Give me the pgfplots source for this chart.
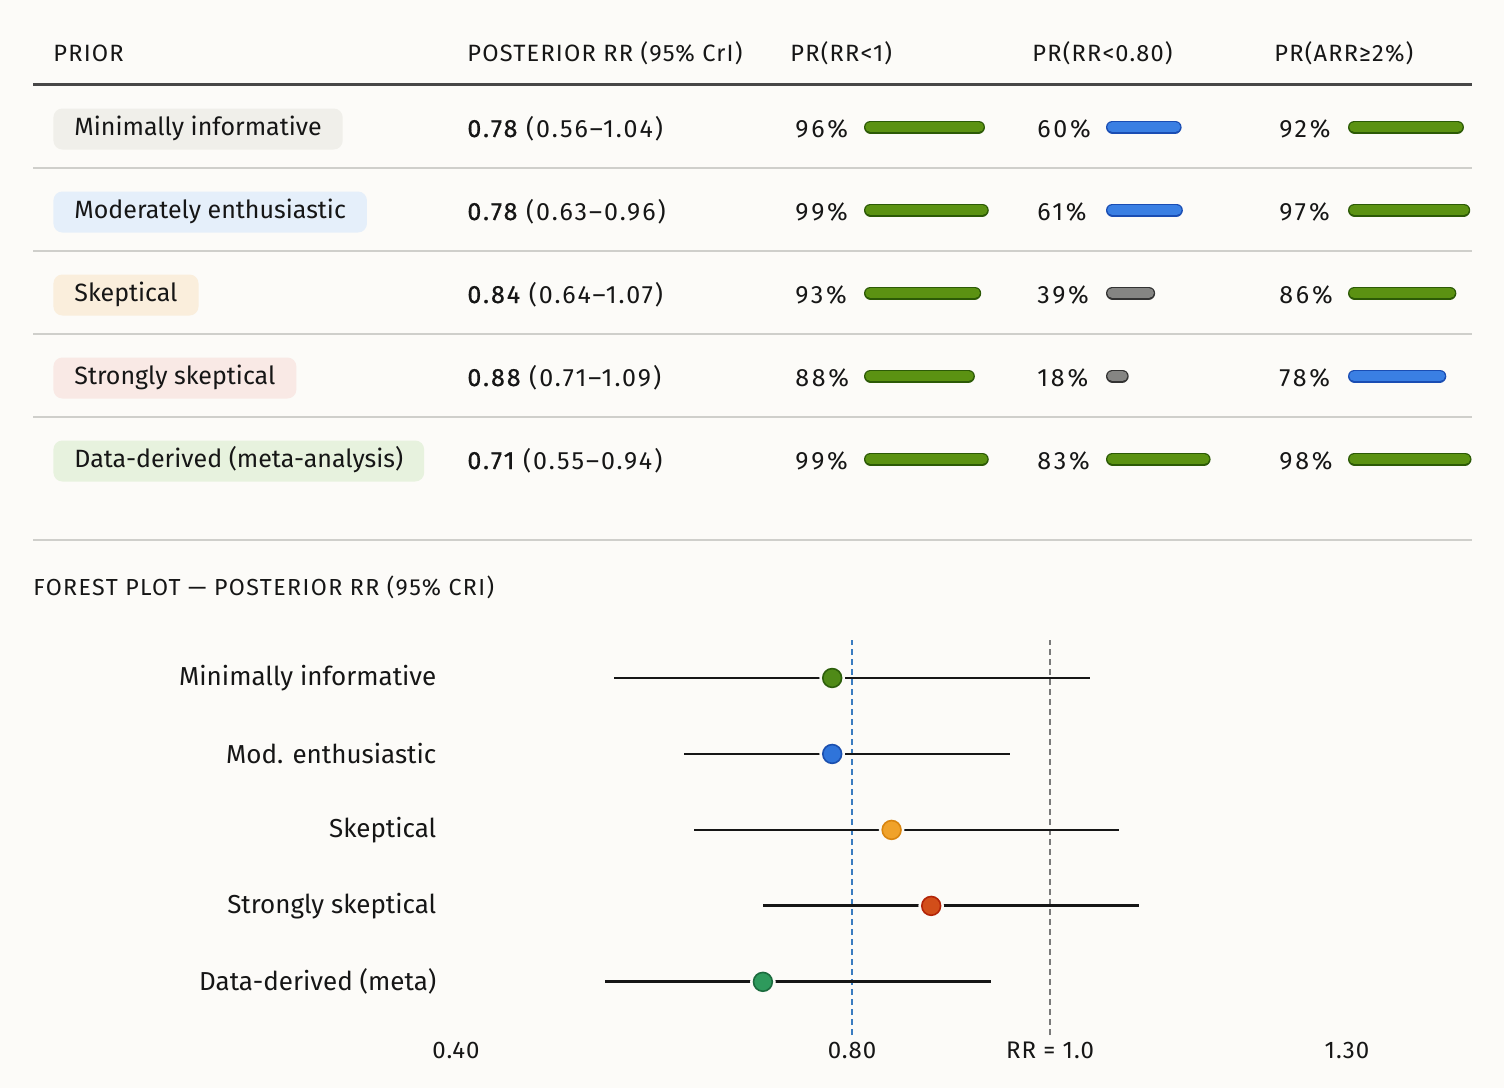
\documentclass[border=0pt]{standalone}
\usepackage{pgfplots}
\pgfplotsset{compat=1.18}
\usepackage{pgfplotstable}
\usepackage{fontspec}
\setmainfont{Fira Sans}
\newfontfamily\numfont[LetterSpace=8]{Fira Sans}
\newfontfamily\pctfont[LetterSpace=11]{Fira Sans}
\newfontfamily\nummed[LetterSpace=8, FakeBold=0.7]{Fira Sans}
\newfontfamily\hdfont[LetterSpace=5]{Fira Sans}
\newfontfamily\ttlfont[LetterSpace=6]{Fira Sans}
\newfontfamily\tickfont[LetterSpace=4]{Fira Sans}

\definecolor{bg}{HTML}{FCFBF8}
\definecolor{ink}{HTML}{161616}
\definecolor{rulec}{HTML}{CFCFCB}
\definecolor{rulek}{HTML}{474747}
\definecolor{grnF}{HTML}{5B9212}
\definecolor{grnD}{HTML}{2C5A06}
\definecolor{bluF}{HTML}{3A7FE3}
\definecolor{bluD}{HTML}{1A4DB3}
\definecolor{gryF}{HTML}{858583}
\definecolor{gryD}{HTML}{333333}
\definecolor{pillA}{HTML}{F0EFEA}
\definecolor{pillB}{HTML}{E5EFFA}
\definecolor{pillC}{HTML}{FAEEDC}
\definecolor{pillD}{HTML}{F9E9E5}
\definecolor{pillE}{HTML}{E7F2DE}
\definecolor{mkA}{HTML}{4F8A17}
\definecolor{mkAd}{HTML}{2D5F0B}
\definecolor{mkB}{HTML}{2F74DA}
\definecolor{mkBd}{HTML}{1B4FAE}
\definecolor{mkC}{HTML}{F0A22A}
\definecolor{mkCd}{HTML}{D9850F}
\definecolor{mkD}{HTML}{D24E1A}
\definecolor{mkDd}{HTML}{B32508}
\definecolor{mkE}{HTML}{2E9A5C}
\definecolor{mkEd}{HTML}{1C6B3E}
\definecolor{refblue}{HTML}{3A7CC0}
\definecolor{refgray}{HTML}{7A7A7A}

\pgfplotsset{
  pill/.style={draw=#1D, double=#1F, line width=0.6pt, double distance=5.3pt,
    line cap=round, shorten <=3.25pt, shorten >=3.25pt, mark=none},
  barcol/.style={hide axis, scale only axis, clip=false, width=63pt, height=207.5pt,
    xmin=0, xmax=100, ymin=0.5, ymax=5.5, y dir=reverse, anchor=north west},
}

% forest plot data: posterior RR and 95% CrI
\pgfplotstableread{
row est lo hi cls
5 0.78 0.56 1.04 a
4 0.78 0.63 0.96 b
3 0.84 0.64 1.07 c
2 0.88 0.71 1.09 d
1 0.71 0.55 0.94 e
}\forest

\begin{document}
\begin{tikzpicture}
\fill[bg] (0,0) rectangle (752pt,-544pt);

\begin{scope}[x=0.5pt, y=-0.5pt, every node/.style={inner sep=0pt, text=ink}]
  % header
  \begin{scope}[every node/.append style={anchor=base west, font=\hdfont\fontsize{11.8}{13}\selectfont}]
    \node at (53,61) {PRIOR};
    \node at (467,61) {POSTERIOR RR (95\% CrI)};
    \node at (790,61) {PR(RR<1)};
    \node at (1032,61) {PR(RR<0.80)};
    \node at (1274,61) {PR(ARR≥2\%)};
  \end{scope}
  \draw[rulek, line width=1.5pt] (33,84) -- (1472,84);
  \foreach \y in {168,251,334,417,540}
    \draw[rulec, line width=0.75pt] (33,\y) -- (1472,\y);

  % prior pills
  \begin{scope}[every node/.append style={anchor=west, rounded corners=4.5pt,
      inner xsep=10.5pt, minimum height=20.5pt, text height=9.2pt, text depth=2.7pt,
      font=\fontsize{12.5}{14}\selectfont}]
    \node[fill=pillA] at (53,129) {Minimally informative};
    \node[fill=pillB] at (53,212) {Moderately enthusiastic};
    \node[fill=pillC] at (53,295) {Skeptical};
    \node[fill=pillD] at (53,378) {Strongly skeptical};
    \node[fill=pillE] at (53,461) {Data-derived (meta-analysis)};
  \end{scope}

  % posterior and probabilities
  \begin{scope}[every node/.append style={anchor=base west, font=\numfont\fontsize{12.5}{14}\selectfont}]
    \node at (467,137) {{\nummed 0.78} (0.56–1.04)};
    \node at (467,220) {{\nummed 0.78} (0.63–0.96)};
    \node at (467,303) {{\nummed 0.84} (0.64–1.07)};
    \node at (467,386) {{\nummed 0.88} (0.71–1.09)};
    \node at (467,469) {{\nummed 0.71} (0.55–0.94)};
  \end{scope}
  \begin{scope}[every node/.append style={anchor=base west, font=\pctfont\fontsize{12.5}{14}\selectfont}]
    \foreach \v/\y in {96/137,99/220,93/303,88/386,99/469}
      \node at (795,\y) {\v\%};
    \foreach \v/\y in {60/137,61/220,39/303,18/386,83/469}
      \node at (1037,\y) {\v\%};
    \foreach \v/\y in {92/137,97/220,86/303,78/386,98/469}
      \node at (1279,\y) {\v\%};
  \end{scope}

  \node[anchor=base west, font=\ttlfont\fontsize{11.6}{13}\selectfont] at (33,595)
    {FOREST PLOT — POSTERIOR RR (95\% CRI)};
\end{scope}

% Pr(RR<1)
\begin{axis}[barcol, at={(432pt,-42.75pt)}]
  \addplot[pill=grn] coordinates {(0,1) (96,1)};
  \addplot[pill=grn] coordinates {(0,2) (99,2)};
  \addplot[pill=grn] coordinates {(0,3) (93,3)};
  \addplot[pill=grn] coordinates {(0,4) (88,4)};
  \addplot[pill=grn] coordinates {(0,5) (99,5)};
\end{axis}
% Pr(RR<0.80)
\begin{axis}[barcol, at={(553pt,-42.75pt)}]
  \addplot[pill=blu] coordinates {(0,1) (60,1)};
  \addplot[pill=blu] coordinates {(0,2) (61,2)};
  \addplot[pill=gry] coordinates {(0,3) (39,3)};
  \addplot[pill=gry] coordinates {(0,4) (18,4)};
  \addplot[pill=grn] coordinates {(0,5) (83,5)};
\end{axis}
% Pr(ARR>=2%)
\begin{axis}[barcol, at={(674pt,-42.75pt)}]
  \addplot[pill=grn] coordinates {(0,1) (92,1)};
  \addplot[pill=grn] coordinates {(0,2) (97,2)};
  \addplot[pill=grn] coordinates {(0,3) (86,3)};
  \addplot[pill=blu] coordinates {(0,4) (78,4)};
  \addplot[pill=grn] coordinates {(0,5) (98,5)};
\end{axis}

% forest plot
\begin{axis}[
  at={(228pt,-517.5pt)}, anchor=south west,
  scale only axis, width=495pt, height=197.5pt,
  xmin=0.4, xmax=1.4, ymin=0.3, ymax=5.5,
  clip=false,
  axis line style={draw=none}, tick style={draw=none},
  xtick={0.4,0.8,1.0,1.3},
  xticklabels={0.40,0.80,RR = 1.0,1.30},
  ytick={1,2,3,4,5},
  yticklabels={Data-derived (meta),Strongly skeptical,Skeptical,Mod. enthusiastic,Minimally informative},
  xticklabel style={font=\tickfont\fontsize{12}{13}\selectfont, text=ink},
  yticklabel style={font=\fontsize{13}{15}\selectfont, text=ink, xshift=-6.3pt},
]
  \addplot[refblue, line width=0.6pt, dash pattern=on 3pt off 2pt] coordinates {(0.8,0.3) (0.8,5.5)};
  \addplot[refgray, line width=0.6pt, dash pattern=on 3pt off 2pt] coordinates {(1.0,0.3) (1.0,5.5)};
  \addplot[draw=none, mark=none,
    error bars/.cd, x dir=both, x explicit, error mark=none,
    error bar style={draw=ink, line width=1.4pt, solid}]
    table[x=est, y=row,
      x error plus expr=\thisrow{hi}-\thisrow{est},
      x error minus expr=\thisrow{est}-\thisrow{lo}] {\forest};
  \addplot[only marks, mark=*, mark size=6.2pt, mark options={draw=bg, fill=bg}]
    table[x=est, y=row] {\forest};
  \addplot[scatter, only marks, mark size=4.7pt, scatter src=explicit symbolic,
    scatter/classes={
      a={mark=*, fill=mkA, draw=mkAd, line width=0.8pt},
      b={mark=*, fill=mkB, draw=mkBd, line width=0.8pt},
      c={mark=*, fill=mkC, draw=mkCd, line width=0.8pt},
      d={mark=*, fill=mkD, draw=mkDd, line width=0.8pt},
      e={mark=*, fill=mkE, draw=mkEd, line width=0.8pt}}]
    table[x=est, y=row, meta=cls] {\forest};
\end{axis}
\end{tikzpicture}
\end{document}
